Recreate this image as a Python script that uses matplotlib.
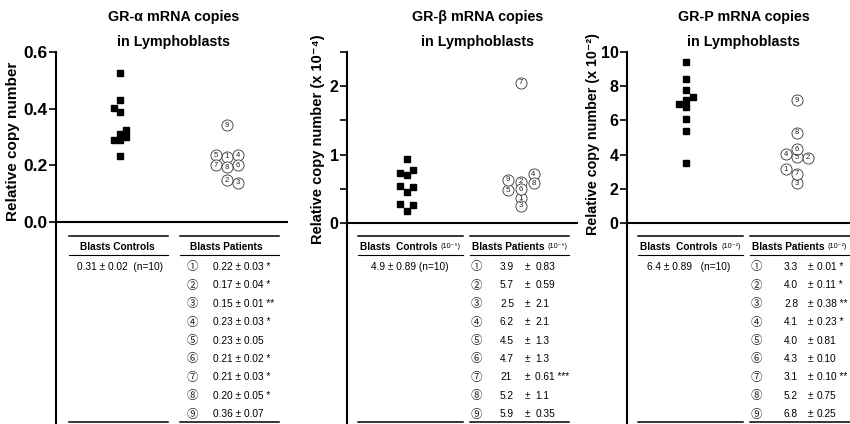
import matplotlib
matplotlib.use("Agg")
import matplotlib.pyplot as plt
from matplotlib.transforms import Affine2D
from matplotlib.lines import Line2D

plt.rcParams['font.family'] = ['Liberation Sans', 'DejaVu Sans']

W, H = 850, 424
CIRC = ['①', '②', '③', '④', '⑤', '⑥', '⑦', '⑧', '⑨']

# ---------------- data ----------------
titles = ["GR-α mRNA copies", "GR-β mRNA copies", "GR-P mRNA copies"]
ylabels = ["Relative copy number", "Relative copy number (x 10⁻⁴)",
           "Relative copy number (x 10⁻²)"]
patient_ids = ["1", "2", "3", "4", "5", "6", "7", "8", "9"]

alpha_controls = [0.526, 0.43, 0.404, 0.388, 0.326, 0.312, 0.288, 0.288, 0.30, 0.232]
alpha_ctrl_col = [0, 0, -1, 0, 1, 0, -1, 0, 1, 0]
alpha_patients = [0.23, 0.147, 0.139, 0.235, 0.235, 0.20, 0.20, 0.194, 0.341]
alpha_pat_col = [0, 0, 1, 1, -1, 1, -1, 0, 0]

beta_controls = [0.93, 0.73, 0.70, 0.77, 0.54, 0.52, 0.46, 0.285, 0.26, 0.18]
beta_ctrl_col = [0, -1, 0, 1, -1, 1, 0, -1, 1, 0]
beta_patients = [0.36, 0.60, 0.25, 0.71, 0.48, 0.49, 2.05, 0.58, 0.63]
beta_pat_col = [0, 0, 0, 1, -1, 0, 0, 1, -1]

p_controls = [9.41, 8.44, 7.8, 7.18, 7.34, 6.95, 6.76, 6.06, 5.38, 3.53]
p_ctrl_col = [0, 0, 0, 0, 1, -1, 0, 0, 0, 0]
p_patients = [3.14, 3.82, 2.33, 4.02, 3.84, 4.31, 2.87, 5.28, 7.18]
p_pat_col = [-1, 1, 0, -1, 0, 0, 0, 0, 0]

# table data
ctrl_summary = ["0.31 ± 0.02  (n=10)", "4.9 ± 0.89 (n=10)", "6.4 ± 0.89   (n=10)"]
alpha_mean = ["0.22", "0.17", "0.15", "0.23", "0.23", "0.21", "0.21", "0.20", "0.36"]
alpha_sem = ["0.03", "0.04", "0.01", "0.03", "0.05", "0.02", "0.03", "0.05", "0.07"]
alpha_sig = ["*", "*", "**", "*", "", "*", "*", "*", ""]
beta_mean = ["3.9", "5.7", "2.5", "6.2", "4.5", "4.7", "21", "5.2", "5.9"]
beta_sem = ["0.83", "0.59", "2.1", "2.1", "1.3", "1.3", "0.61", "1.1", "0.35"]
beta_sig = ["", "", "", "", "", "", "***", "", ""]
p_mean = ["3.3", "4.0", "2.8", "4.1", "4.0", "4.3", "3.1", "5.2", "6.8"]
p_sem = ["0.01", "0.11", "0.38", "0.23", "0.81", "0.10", "0.10", "0.75", "0.25"]
p_sig = ["*", "*", "**", "*", "", "", "**", "", ""]

# ---------------- figure ----------------
fig = plt.figure(figsize=(8.5, 4.24), dpi=100)
PX = Affine2D().scale(1 / W, -1 / H).translate(0, 1) + fig.transFigure


def add_ax(left, right, top, bottom):
    return fig.add_axes([left / W, 1 - bottom / H, (right - left) / W, (bottom - top) / H])


panels = [
    dict(box=(56, 287, 52, 222), xc=(120, 227), ylim=(0, 0.6),
         ticks=[0, 0.2, 0.4, 0.6], ticklabels=["0.0", "0.2", "0.4", "0.6"], minor=[],
         tsize=12.5, ctrl=alpha_controls, ccol=alpha_ctrl_col, cs=6.0,
         pat=alpha_patients, pcol=alpha_pat_col, ps=10.8),
    dict(box=(347, 577, 52, 223), xc=(406.7, 520.7), ylim=(0, 2.5),
         ticks=[0, 1, 2], ticklabels=["0", "1", "2"], minor=[0.5, 1.5, 2.5],
         tsize=11.5, ctrl=beta_controls, ccol=beta_ctrl_col, cs=6.7,
         pat=beta_patients, pcol=beta_pat_col, ps=12.8),
    dict(box=(627, 850, 52, 223), xc=(686, 797), ylim=(0, 10),
         ticks=[0, 2, 4, 6, 8, 10], ticklabels=["0", "2", "4", "6", "8", "10"], minor=[],
         tsize=11.5, ctrl=p_controls, ccol=p_ctrl_col, cs=6.7,
         pat=p_patients, pcol=p_pat_col, ps=11.0),
]

for i, pn in enumerate(panels):
    l, r, t, b = pn['box']
    ax = add_ax(l, r, t, b)
    c1, c2 = pn['xc']
    ppu = c2 - c1  # pixels per x unit
    ax.set_xlim(1 - (c1 - l) / ppu, 2 + (r - c2) / ppu)
    ax.set_ylim(*pn['ylim'])
    for s in ['top', 'right']:
        ax.spines[s].set_visible(False)
    for s in ['left', 'bottom']:
        ax.spines[s].set_linewidth(1.5)
    ax.set_xticks([])
    ax.set_yticks(pn['ticks'])
    ax.set_yticklabels(pn['ticklabels'], fontweight='bold', fontsize=pn['tsize'])
    if pn['minor']:
        ax.set_yticks(pn['minor'], minor=True)
    ax.tick_params(axis='y', which='both', length=5, width=1.2, pad=1)

    xs = [1 + c * pn['cs'] / ppu for c in pn['ccol']]
    ax.plot(xs, pn['ctrl'], 's', color='black', markersize=3.9, linestyle='none')
    pxs = [2 + c * pn['ps'] / ppu for c in pn['pcol']]
    ax.plot(pxs, pn['pat'], 'o', markersize=8.0, markerfacecolor='white',
            markeredgecolor='#333333', markeredgewidth=0.6, linestyle='none')
    for xk, v, lab in zip(pxs, pn['pat'], patient_ids):
        ax.text(xk, v, lab, ha='center', va='center', fontsize=5.6, color='#222222')

    # extend the y-axis line down through the table
    fig.add_artist(Line2D([l, l], [b, H], transform=PX, color='black', lw=1.5))

# titles
for cx, ttl in zip([174, 477.5, 744], titles):
    fig.text(cx, 17, ttl, transform=PX, ha='center', va='center', fontsize=10.3, fontweight='bold')
    fig.text(cx, 42, "in Lymphoblasts", transform=PX, ha='center', va='center',
             fontsize=10.3, fontweight='bold')

# y labels
for (x, y), lab, fs in zip([(13, 141), (318, 139), (593, 134)], ylabels, [11, 10.5, 10.3]):
    fig.text(x, y, lab, transform=PX, rotation=90, ha='center', va='center',
             fontsize=fs, fontweight='bold')

# ---------------- tables ----------------
TS = 7.3
rows_y = [266.7 + k * 18.45 for k in range(9)]


def hline(x0, x1, y, lw):
    fig.add_artist(Line2D([x0, x1], [y, y], transform=PX, color='black', lw=lw))


tables = [
    dict(cl=(69, 168), pl=(180, 279), chead=("Blasts Controls", None, 117.5),
         phead=("Blasts Patients", None, 226.7), cval=(120, ctrl_summary[0]),
         cx=192, vx=213, mean=alpha_mean, sem=alpha_sem, sig=alpha_sig, style='joined'),
    dict(cl=(358, 463), pl=(470, 569), chead=("Blasts  Controls", "(10⁻⁵)", 360, 441),
         phead=("Blasts Patients", "(10⁻⁵)", 472, 548), cval=(410, ctrl_summary[1]),
         cx=476.7, vx=500, pmx=527.5, sx=535.5, mean=beta_mean, sem=beta_sem, sig=beta_sig,
         style='split'),
    dict(cl=(638, 743), pl=(750, 850), chead=("Blasts  Controls", "(10⁻²)", 640, 722),
         phead=("Blasts Patients", "(10⁻²)", 752, 828), cval=(689, ctrl_summary[2]),
         cx=756.7, vx=784, pmx=810.5, sx=817, mean=p_mean, sem=p_sem, sig=p_sig,
         style='split'),
]

for tb in tables:
    for (x0, x1) in (tb['cl'], tb['pl']):
        hline(x0, x1, 236, 1.1)
        hline(x0, x1, 255, 0.8)
        hline(x0, x1, 422, 1.1)
    for head in (tb['chead'], tb['phead']):
        if head[1] is None:
            fig.text(head[2], 246.5, head[0], transform=PX, ha='center', va='center',
                     fontsize=TS, fontweight='bold')
        else:
            fig.text(head[2], 246.5, head[0], transform=PX, ha='left', va='center',
                     fontsize=TS, fontweight='bold')
            fig.text(head[3], 246.5, head[1], transform=PX, ha='left', va='center',
                     fontsize=5.2)
    fig.text(tb['cval'][0], rows_y[0], tb['cval'][1], transform=PX, ha='center',
             va='center', fontsize=TS)
    for k in range(9):
        y = rows_y[k]
        fig.text(tb['cx'], y, CIRC[k], transform=PX, ha='center', va='center',
                 fontsize=8.3, family=['Noto Sans CJK JP'], color='#222222')
        sig = (" " + tb['sig'][k]) if tb['sig'][k] else ""
        if tb['style'] == 'joined':
            fig.text(tb['vx'], y, f"{tb['mean'][k]} ± {tb['sem'][k]}{sig}", transform=PX,
                     ha='left', va='center', fontsize=TS)
        else:
            fig.text(tb['vx'], y, tb['mean'][k], transform=PX, ha='left', va='center',
                     fontsize=TS)
            fig.text(tb['pmx'], y, "±", transform=PX, ha='center', va='center', fontsize=TS)
            fig.text(tb['sx'], y, tb['sem'][k] + sig, transform=PX, ha='left',
                     va='center', fontsize=TS)

fig.savefig("out.png", dpi=100)
